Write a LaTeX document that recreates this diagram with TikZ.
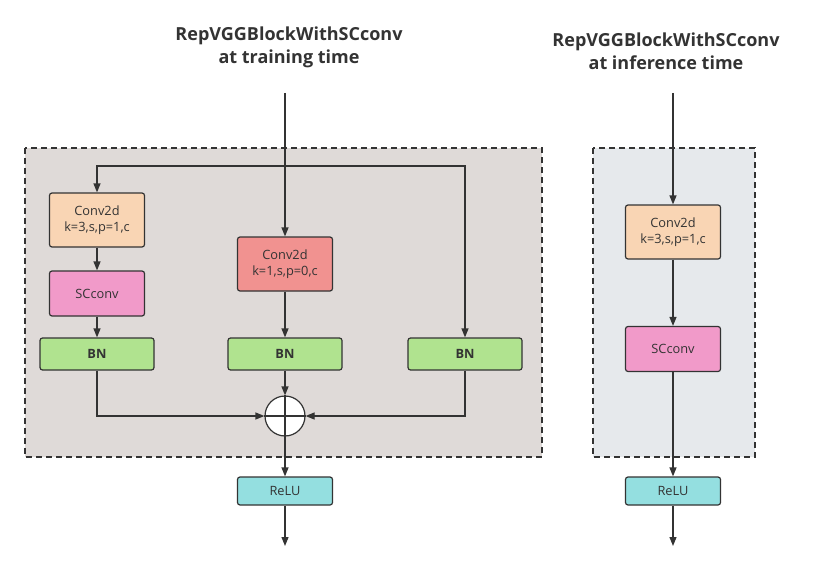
\documentclass[tikz,border=0pt]{standalone}
\usepackage{fontspec}
\setmainfont{Open Sans}
\usetikzlibrary{arrows.meta, positioning, calc}
\definecolor{rvpeach}{HTML}{F9D5B4}
\definecolor{rvpink}{HTML}{F19AC9}
\definecolor{rvred}{HTML}{F19290}
\definecolor{rvgreen}{HTML}{B0E38F}
\definecolor{rvcyan}{HTML}{94DFE0}
\definecolor{rvline}{HTML}{333333}
\definecolor{rvtrain}{HTML}{DFDAD8}
\definecolor{rvinfer}{HTML}{E6E9EC}

\begin{document}
\begin{tikzpicture}[x=1pt, y=-1pt,
  blk/.style={draw=rvline, line width=1.2pt, rounded corners=2.5pt, inner sep=0pt,
    align=center, text=rvline, font=\fontsize{12.8}{16}\selectfont},
  convbox/.style={blk, minimum width=95pt, minimum height=54pt},
  scbox/.style={blk, fill=rvpink, minimum width=95pt, minimum height=45pt},
  bnbox/.style={blk, fill=rvgreen, minimum width=114pt, minimum height=32pt, font=\fontsize{12.8}{16}\selectfont\bfseries},
  relubox/.style={blk, fill=rvcyan, minimum width=95pt, minimum height=28pt},
  flow/.style={draw=rvline, line width=1.2pt, -{Triangle[length=9pt, width=7pt]}},
  panel/.style={draw=rvline, line width=1.3pt, dash pattern=on 6pt off 4pt},
  title/.style={align=center, text=rvline, font=\fontsize{18}{23}\selectfont\bfseries}]
\useasboundingbox (0,0) rectangle (814,567);

% Panels
\draw[panel, fill=rvtrain] (25,148) rectangle (542,457);
\draw[panel, fill=rvinfer] (593,148) rectangle (755,457);

% Titles
\node[title] (ttrain) at (289,47) {RepVGGBlockWithSCconv\\at training time};
\node[title] (tinfer) at (666,51) {RepVGGBlockWithSCconv\\at inference time};

% Training-time block
\coordinate (in1) at (285,93);
\coordinate (split) at (285,166);
\node[convbox, fill=rvpeach] (conv3) at (97,220) {Conv2d\\k=3,s,p=1,c};
\node[scbox] (sc1) at (97,293.5) {SCconv};
\node[bnbox] (bn1) at (97,354) {BN};
\node[convbox, fill=rvred] (conv1) at (285,264) {Conv2d\\k=1,s,p=0,c};
\node[bnbox] (bn2) at (285,354) {BN};
\node[bnbox] (bn3) at (465,354) {BN};
\node[circle, draw=rvline, line width=1.2pt, fill=white, minimum size=40pt, inner sep=0pt] (sum) at (285,416) {};
\draw[rvline, line width=1.2pt] (sum.north) -- (sum.south) (sum.west) -- (sum.east);
\node[relubox] (relu1) at (285,491) {ReLU};
\coordinate (out1) at (285,546);

\draw[flow] (in1) -- (conv1);
\draw[flow] (split) -| (conv3);
\draw[flow] (split) -| (bn3);
\draw[flow] (conv3) -- (sc1);
\draw[flow] (sc1) -- (bn1);
\draw[flow] (conv1) -- (bn2);
\draw[flow] (bn1) |- (sum);
\draw[flow] (bn3) |- (sum);
\draw[flow] (bn2) -- (sum);
\draw[flow] (sum) -- (relu1);
\draw[flow] (relu1) -- (out1);

% Inference-time block
\coordinate (in2) at (673,93);
\node[convbox, fill=rvpeach] (conv3b) at (673,232) {Conv2d\\k=3,s,p=1,c};
\node[scbox] (sc2) at (673,349) {SCconv};
\node[relubox] (relu2) at (673,491) {ReLU};
\coordinate (out2) at (673,546);

\draw[flow] (in2) -- (conv3b);
\draw[flow] (conv3b) -- (sc2);
\draw[flow] (sc2) -- (relu2);
\draw[flow] (relu2) -- (out2);

\end{tikzpicture}
\end{document}
